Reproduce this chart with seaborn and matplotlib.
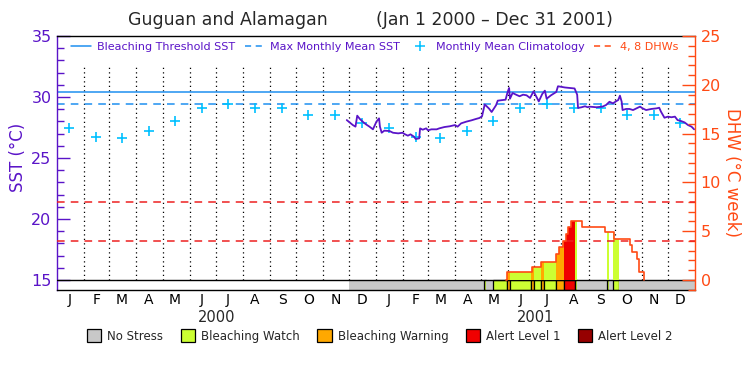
import matplotlib
matplotlib.use("Agg")
import matplotlib.pyplot as plt
import matplotlib.dates as mdates
from matplotlib.lines import Line2D
from matplotlib.patches import Patch
from matplotlib.ticker import MultipleLocator
import seaborn as sns
import pandas as pd

# ---- data ----
sst_dates = [
    "2000-11-28", "2000-12-05", "2000-12-08", "2000-12-10", "2000-12-13", "2000-12-17",
    "2000-12-20", "2000-12-24", "2000-12-28", "2001-01-01", "2001-01-04", "2001-01-05",
    "2001-01-07", "2001-01-10", "2001-01-16", "2001-01-20", "2001-01-26", "2001-01-31",
    "2001-02-02", "2001-02-06", "2001-02-09", "2001-02-13", "2001-02-15", "2001-02-19",
    "2001-02-20", "2001-02-23", "2001-02-27", "2001-03-01", "2001-03-05", "2001-03-11",
    "2001-03-14", "2001-03-20", "2001-03-26", "2001-04-01", "2001-04-04", "2001-04-08",
    "2001-04-14", "2001-04-20", "2001-04-25", "2001-04-29", "2001-05-02", "2001-05-05",
    "2001-05-07", "2001-05-10", "2001-05-13", "2001-05-18", "2001-05-20", "2001-05-29",
    "2001-05-31", "2001-06-02", "2001-06-03", "2001-06-06", "2001-06-10", "2001-06-14",
    "2001-06-18", "2001-06-22", "2001-06-26", "2001-06-30", "2001-07-03", "2001-07-06",
    "2001-07-10", "2001-07-13", "2001-07-15", "2001-07-20", "2001-07-26", "2001-07-28",
    "2001-08-05", "2001-08-16", "2001-08-19", "2001-08-20", "2001-08-24", "2001-08-28",
    "2001-08-31", "2001-09-02", "2001-09-10", "2001-09-17", "2001-09-21", "2001-09-25",
    "2001-09-29", "2001-10-03", "2001-10-05", "2001-10-07", "2001-10-09", "2001-10-10",
    "2001-10-14", "2001-10-18", "2001-10-22", "2001-10-26", "2001-10-30", "2001-11-02",
    "2001-11-06", "2001-11-12", "2001-11-18", "2001-11-21", "2001-11-23", "2001-11-27",
    "2001-12-01", "2001-12-05", "2001-12-09", "2001-12-12", "2001-12-16", "2001-12-20",
    "2001-12-24", "2001-12-28", "2001-12-31",
]
sst_vals = [
    28.11, 27.70, 27.57, 28.47, 28.20, 27.93,
    27.76, 27.57, 27.35, 27.98, 28.25, 27.57,
    27.07, 27.24, 27.21, 27.07, 27.02, 27.07,
    26.97, 26.83, 26.94, 26.75, 26.56, 26.61,
    27.43, 27.32, 27.43, 27.27, 27.35, 27.35,
    27.43, 27.54, 27.60, 27.70, 27.57, 27.84,
    27.98, 28.09, 28.20, 28.28, 28.42, 29.38,
    29.26, 29.05, 28.77, 29.32, 29.70, 29.78,
    30.33, 30.74, 29.86, 30.33, 30.19, 30.06,
    30.19, 30.14, 29.92, 30.46, 30.06, 29.64,
    30.25, 30.52, 29.86, 30.14, 30.41, 30.88,
    30.78, 30.70, 30.19, 29.10, 29.16, 29.24,
    29.16, 29.21, 29.16, 29.21, 29.34, 29.61,
    29.48, 29.67, 29.75, 30.11, 29.61, 28.93,
    29.02, 29.02, 28.93, 29.07, 29.21, 29.07,
    28.93, 29.02, 29.07, 29.12, 28.80, 28.30,
    28.39, 28.34, 28.39, 28.11, 28.03, 27.92,
    27.70, 27.57, 27.35,
]

clim_vals = [27.45, 26.75, 26.60, 27.20, 28.05, 29.10, 29.40, 29.10, 29.10, 28.50, 28.55, 27.85]
years = [2000, 2001]
month_letters = ["J", "F", "M", "A", "M", "J", "J", "A", "S", "O", "N", "D"]

mmm_sst = 29.40
threshold_sst = 30.40
dhw_levels = [4, 8]

dhw_dates = [
    "2001-05-30", "2001-05-31", "2001-06-28", "2001-07-09", "2001-07-26", "2001-07-29",
    "2001-08-03", "2001-08-06", "2001-08-09", "2001-08-12", "2001-08-24", "2001-09-20",
    "2001-09-30", "2001-10-18", "2001-10-21", "2001-10-26", "2001-10-29", "2001-11-04",
]
dhw_vals = [0, 0.8, 1.3, 1.8, 2.65, 3.35, 4.0, 4.7, 5.4, 6.05, 5.4, 4.9, 4.25, 3.55, 2.85, 2.15, 0.85, 0]

# stress level: 0 no stress, 1 watch, 2 warning, 3 alert 1, 4 alert 2
stress_dates = [
    "2000-12-01", "2001-05-04", "2001-05-06", "2001-05-14", "2001-05-31", "2001-06-03",
    "2001-06-27", "2001-07-01", "2001-07-09", "2001-07-12", "2001-07-26", "2001-08-04",
    "2001-08-17", "2001-08-19", "2001-09-22", "2001-09-25", "2001-09-29", "2001-10-06",
]
stress_levels = [0, 1, 0, 1, 2, 1, 2, 1, 2, 1, 2, 3, 1, 0, 1, 0, 1, 0]
data_end = "2002-01-01"

stress_names = ["No Stress", "Bleaching Watch", "Bleaching Warning", "Alert Level 1", "Alert Level 2"]
stress_colors = ["#c8c8c8", "#ccff33", "#ffa800", "#f00000", "#960000"]

PURPLE = "#5a14c8"
ORANGE = "#ff4a14"
BLUE = "#1e8ff0"
CYAN = "#00c0ff"
DASHRED = "#ee2020"

sns.set_style("white")
plt.rcParams["font.family"] = ["DejaVu Sans"]

fig = plt.figure(figsize=(7.5, 3.75), dpi=100)
ax = fig.add_axes([57 / 750, 85 / 375, 638 / 750, 254 / 375])
ax2 = ax.twinx()

sst_min, sst_max = 15, 35
band_bottom = sst_min - 10 / 12.2
ax.set_ylim(band_bottom, sst_max)
ax2.set_ylim((band_bottom - sst_min) * 1.25, 25)

x0 = mdates.date2num(pd.Timestamp("2000-01-01"))
x1 = mdates.date2num(pd.Timestamp("2002-01-01"))

# month boundary dotted lines
month_starts = pd.date_range("2000-02-01", "2001-12-01", freq="MS")
ax.vlines(mdates.date2num(month_starts), sst_min, 32.62, colors="k",
          linestyles=(0, (1, 2.6)), lw=0.9, zorder=1)

# threshold / MMM
ax.axhline(threshold_sst, color=BLUE, lw=1.1, zorder=2)
ax.axhline(mmm_sst, color=BLUE, lw=1.1, ls=(0, (5, 4)), zorder=2)
for lv in dhw_levels:
    ax2.axhline(lv, color=DASHRED, lw=1.1, ls=(0, (5, 4)), zorder=2)

# climatology crosses
clim_df = pd.DataFrame({
    "date": [pd.Timestamp(y, m, 15) for y in years for m in range(1, 13)],
    "sst": clim_vals * len(years),
})
sns.scatterplot(data=clim_df, x="date", y="sst", marker="+", s=50, color=CYAN,
                linewidth=1.2, ax=ax, zorder=4, legend=False)

# SST line
sst_df = pd.DataFrame({"date": pd.to_datetime(sst_dates), "sst": sst_vals})
sns.lineplot(data=sst_df, x="date", y="sst", color=PURPLE, lw=1.3, ax=ax, zorder=5)

# stress band + DHW fill
dhw = pd.Series(dhw_vals, index=pd.to_datetime(dhw_dates))
s_start = pd.to_datetime(stress_dates)
s_end = list(s_start[1:]) + [pd.Timestamp(data_end)]
for a, b, lv in zip(s_start, s_end, stress_levels):
    ax.bar(mdates.date2num(a), sst_min - band_bottom, width=(b - a).days, bottom=band_bottom,
           align="edge", color=stress_colors[lv], edgecolor="k" if lv > 0 else "none",
           lw=0.9, zorder=2)
    if lv == 0:
        continue
    cuts = sorted({a, b} | {d for d in dhw.index if a < d < b})
    for c0, c1 in zip(cuts[:-1], cuts[1:]):
        h = dhw.asof(c0) if c0 >= dhw.index[0] else 0
        if h > 0:
            ax2.bar(mdates.date2num(c0), h, width=(c1 - c0).days, align="edge",
                    color=stress_colors[lv], lw=0, zorder=1)

ax2.step(mdates.date2num(dhw.index), dhw.values, where="post", color=ORANGE, lw=1.2, zorder=3)

ax.axhline(sst_min, color="k", lw=1.0, zorder=6)

# axes styling
ax.set_xlim(x0, x1)
mid = [mdates.date2num(pd.Timestamp(y, m, 15)) for y in years for m in range(1, 13)]
ax.set_xticks(mid)
ax.set_xticklabels(month_letters * len(years))
ax.tick_params(axis="x", length=0, pad=2, labelsize=10, colors="k")
ax.set_xlabel("")
ax.set_ylabel("")
for y in years:
    ax.text(mdates.date2num(pd.Timestamp(y, 7, 2)), -0.11, str(y), transform=ax.get_xaxis_transform(),
            ha="center", va="center", fontsize=10.5)

ax.set_yticks([15, 20, 25, 30, 35])
ax.yaxis.set_minor_locator(MultipleLocator(1))
ax.tick_params(axis="y", which="major", direction="in", length=9.5, width=1, colors=PURPLE,
               labelsize=11.5, pad=4)
ax.tick_params(axis="y", which="minor", direction="in", length=5, width=1, colors=PURPLE, left=True)

ax2.set_yticks([0, 5, 10, 15, 20, 25])
ax2.yaxis.set_minor_locator(MultipleLocator(1))
ax2.tick_params(axis="y", which="major", direction="in", length=9.5, width=1, colors=ORANGE,
                labelsize=11.5, pad=4)
ax2.tick_params(axis="y", which="minor", direction="in", length=5, width=1, colors=ORANGE, right=True)
ax2.set_ylabel("")

for a in (ax, ax2):
    a.grid(False)
    for sp in a.spines.values():
        sp.set_linewidth(1.0)
ax.spines["left"].set_color(PURPLE)
ax.spines["top"].set_color("k")
ax.spines["bottom"].set_color("k")
ax.spines["right"].set_visible(False)
ax2.spines["left"].set_visible(False)
ax2.spines["right"].set_color(ORANGE)
ax2.spines["top"].set_visible(False)
ax2.spines["bottom"].set_visible(False)

# titles / labels
fig.text(228 / 750, 1 - 20 / 375, "Guguan and Alamagan", ha="center", va="center", fontsize=12.5)
fig.text(494 / 750, 1 - 20 / 375, "(Jan 1 2000 \u2013 Dec 31 2001)", ha="center", va="center", fontsize=12.5)
fig.text(18 / 750, 1 - 157 / 375, "SST (\u00b0C)", rotation=90, ha="center", va="center",
         fontsize=12, color=PURPLE)
fig.text(732 / 750, 1 - 172 / 375, "DHW (\u00b0C week)", rotation=270, ha="center", va="center",
         fontsize=12, color=ORANGE)

# top legend
top_handles = [
    Line2D([], [], color=BLUE, lw=1.1),
    Line2D([], [], color=BLUE, lw=1.1, ls=(0, (4, 3))),
    Line2D([], [], color=CYAN, marker="+", ls="none", ms=6.5, mew=1.1),
    Line2D([], [], color=ORANGE, lw=1.1, ls=(0, (4, 3))),
]
top_labels = ["Bleaching Threshold SST", "Max Monthly Mean SST", "Monthly Mean Climatology", "4, 8 DHWs"]
leg = ax2.legend(top_handles, top_labels, loc="center left", bbox_to_anchor=(0.015, 0.957), ncol=4,
                 frameon=False, fontsize=8, handlelength=1.8, handletextpad=0.5,
                 columnspacing=0.9, borderaxespad=0)
for t, c in zip(leg.get_texts(), [PURPLE, PURPLE, PURPLE, ORANGE]):
    t.set_color(c)

# bottom legend
bottom_handles = [Patch(facecolor=c, edgecolor="k", lw=0.9) for c in stress_colors]
fig.legend(bottom_handles, stress_names, loc="center", bbox_to_anchor=(380 / 750, 1 - 336 / 375),
           ncol=5, frameon=False, fontsize=8.5, handlelength=1.2, handleheight=1.2,
           handletextpad=0.5, columnspacing=1.5)

fig.savefig("out.png", dpi=100)
